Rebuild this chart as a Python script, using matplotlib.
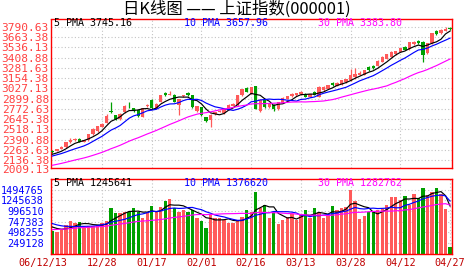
import matplotlib
matplotlib.use("Agg")
import matplotlib.pyplot as plt
import matplotlib.transforms as mtransforms
import numpy as np
import pandas as pd

# ---- data --------------------------------------------------------------
date_labels = ["06/12/13", "12/28", "01/17", "02/01", "02/16", "03/13", "03/28", "04/12", "04/27"]
date_index = [0, 11, 22, 33, 44, 55, 66, 77, 88]

opens = [2252, 2254, 2280, 2296, 2362, 2386, 2404, 2366, 2384, 2458,
         2500, 2550, 2602, 2752, 2694, 2646, 2735, 2850, 2778, 2756,
         2672, 2808, 2880, 2778, 2860, 2975, 2950, 2950, 2820, 2930,
         2975, 2942, 2745, 2796, 2672, 2632, 2704, 2740, 2716, 2768,
         2812, 2818, 2942, 3033, 2963, 3054, 2747, 2880, 2797, 2826,
         2776, 2847, 2901, 2935, 2942, 2954, 2960, 2925, 2983, 2921,
         3005, 3025, 3100, 3060, 3078, 3110, 3128, 3170, 3195, 3194,
         3298, 3310, 3311, 3361, 3393, 3423, 3451, 3485, 3547, 3517,
         3576, 3612, 3609, 3464, 3588, 3741, 3712, 3745, 3780]
highs = [2268, 2280, 2308, 2362, 2410, 2412, 2412, 2392, 2462, 2532,
         2566, 2592, 2706, 2858, 2702, 2718, 2822, 2858, 2786, 2762,
         2790, 2838, 2892, 2842, 2945, 2980, 2990, 2956, 2902, 2950,
         2985, 2950, 2812, 2802, 2676, 2706, 2740, 2760, 2782, 2832,
         2845, 2948, 3020, 3040, 3050, 3058, 2892, 2890, 2845, 2832,
         2860, 2918, 2935, 2968, 2975, 2990, 2966, 2960, 2992, 3052,
         3052, 3070, 3106, 3108, 3135, 3150, 3274, 3277, 3250, 3260,
         3305, 3318, 3375, 3430, 3458, 3490, 3498, 3532, 3555, 3605,
         3615, 3625, 3615, 3592, 3720, 3752, 3760, 3785, 3790.63]
lows = [2228, 2246, 2276, 2290, 2352, 2376, 2356, 2360, 2380, 2450,
        2490, 2542, 2598, 2720, 2640, 2640, 2728, 2790, 2738, 2678,
        2666, 2800, 2770, 2770, 2855, 2938, 2940, 2856, 2692, 2918,
        2935, 2790, 2738, 2688, 2612, 2548, 2696, 2730, 2710, 2762,
        2806, 2812, 2936, 2980, 2958, 2770, 2740, 2790, 2790, 2745,
        2760, 2840, 2895, 2925, 2938, 2945, 2915, 2918, 2945, 2915,
        3000, 3020, 3060, 3055, 3070, 3100, 3120, 3150, 3190, 3190,
        3250, 3270, 3305, 3355, 3388, 3418, 3445, 3480, 3500, 3510,
        3570, 3585, 3361, 3455, 3580, 3695, 3705, 3738, 3748]
closes = [2242, 2272, 2300, 2356, 2392, 2402, 2364, 2386, 2456, 2526,
          2560, 2580, 2690, 2738, 2652, 2712, 2815, 2842, 2746, 2686,
          2784, 2826, 2778, 2838, 2940, 2944, 2960, 2860, 2898, 2936,
          2942, 2798, 2806, 2694, 2620, 2700, 2734, 2750, 2776, 2826,
          2838, 2942, 3016, 2985, 3045, 2776, 2888, 2797, 2838, 2776,
          2858, 2913, 2929, 2955, 2970, 2983, 2925, 2952, 2950, 3045,
          3045, 3066, 3066, 3100, 3128, 3140, 3190, 3210, 3225, 3256,
          3262, 3278, 3368, 3423, 3451, 3485, 3492, 3526, 3505, 3600,
          3609, 3590, 3443, 3588, 3712, 3700, 3753, 3770, 3765]
volumes = [524, 510, 548, 665, 759, 705, 745, 627, 651, 651,
           665, 705, 759, 1058, 956, 940, 980, 980, 1074, 980,
           823, 980, 1121, 980, 1097, 1230, 1269, 1074, 980, 1018,
           980, 1018, 823, 759, 604, 900, 839, 823, 783, 705,
           720, 790, 862, 1018, 980, 1434, 1058, 1136, 839, 980,
           682, 783, 862, 917, 783, 917, 1018, 823, 1074, 971,
           830, 909, 1105, 1011, 1074, 1089, 1481, 1222, 799, 877,
           971, 971, 1011, 1050, 1128, 1324, 1324, 1246, 1347, 1128,
           1402, 1300, 1520, 1363, 1426, 1520, 1402, 1050, 148]
volumes = [v * 1000 for v in volumes]

# sessions before the window (only feed the moving averages)
pre_closes = [1930, 1945, 1952, 1968, 1975, 1983, 1990, 1998, 2005, 2012,
              2020, 2028, 2035, 2042, 2050, 2058, 2065, 2072, 2080, 2090,
              2120, 2145, 2165, 2185, 2210, 2190, 2198, 2205, 2211]
pre_volumes = [420, 450, 430, 470, 455, 440, 480, 500, 470, 460,
               490, 510, 480, 520, 505, 530, 515, 540, 560, 555,
               820, 760, 800, 750, 770, 680, 640, 620, 636]
pre_volumes = [v * 1000 for v in pre_volumes]

price_ticks = [2136.38, 2263.63, 2390.88, 2518.13, 2645.38, 2772.63, 2899.88,
               3027.13, 3154.38, 3281.63, 3408.88, 3536.13, 3663.38, 3790.63]
price_floor = 2009.13
vol_ticks = [249128, 498255, 747383, 996510, 1245638, 1494765]

price_legend = [("5 PMA 3745.16", "black"), ("10 PMA 3657.96", "#0000ff"), ("30 PMA 3383.80", "#ff00ff")]
vol_legend = [("5 PMA 1245641", "black"), ("10 PMA 1376620", "#0000ff"), ("30 PMA 1282762", "#ff00ff")]

# ---- styling ------------------------------------------------------------
W, H = 472, 273
RED = "#ff5a5a"
GREEN = "#00a000"
FRAME = "#ff0000"
MONO = "DejaVu Sans Mono"

n = len(closes)
x = np.arange(n)
o = np.array(opens, dtype=float)
h = np.array(highs, dtype=float)
l = np.array(lows, dtype=float)
c = np.array(closes, dtype=float)
up = c >= o
colors = np.where(up, RED, GREEN)

all_close = pd.Series(pre_closes + closes, dtype=float)
all_vol = pd.Series(pre_volumes + volumes, dtype=float)
k = len(pre_closes)
ma_price = {p: all_close.rolling(p).mean().iloc[k:].to_numpy() for p in (5, 10, 30)}
ma_vol = {p: all_vol.rolling(p).mean().iloc[k:].to_numpy() for p in (5, 10, 30)}
ma_colors = {5: "black", 10: "#0000ff", 30: "#ff00ff"}


def fx(px):
    return px / W


def fy(py):
    return 1 - py / H


def style_panel(ax):
    for s in ax.spines.values():
        s.set_color(FRAME)
        s.set_linewidth(1.0)
    ax.spines["left"].set_linestyle((0, (1, 1)))
    ax.grid(True, color="#c4c4c4", linestyle=(0, (1, 2)), linewidth=0.8)
    ax.set_axisbelow(True)
    ax.tick_params(length=0)


fig = plt.figure(figsize=(W / 100, H / 100), dpi=100)

ax = fig.add_axes([fx(51), fy(168), fx(401), 149 / H])
axv = fig.add_axes([fx(51), fy(253.5), fx(401), 75 / H])

# candles
ax.vlines(x, l, h, colors=colors, linewidth=0.9, zorder=2)
body_bot = np.minimum(o, c)
body_h = np.maximum(np.abs(c - o), 10)
ax.bar(x, body_h, bottom=body_bot, width=0.74, color=colors, linewidth=0, zorder=3)
for p in (5, 10, 30):
    ax.plot(x, ma_price[p], color=ma_colors[p], linewidth=0.85, zorder=4)

ax.set_xlim(-0.29, 88.43)
ax.set_ylim(2038.4, 3890)
ax.set_yticks(price_ticks)
ax.set_yticklabels([f"{t:.2f}" for t in price_ticks])
ax.set_xticks(date_index[1:-1])
ax.set_xticklabels([])
style_panel(ax)
ax.tick_params(axis="y", colors="#ff4040", labelsize=8, pad=1.5)
for t in ax.get_yticklabels():
    t.set_fontfamily(MONO)
ax.text(-0.0045, price_floor, f"{price_floor:.2f}", transform=ax.get_yaxis_transform(),
        ha="right", va="center", fontsize=8, color="#ff4040", family=MONO, clip_on=False)

# volume bars
axv.bar(x, volumes, width=0.74, color=colors, linewidth=0, zorder=2)
for p in (5, 10, 30):
    axv.plot(x, ma_vol[p], color=ma_colors[p], linewidth=0.85, zorder=4)
axv.set_xlim(-0.29, 88.43)
axv.set_ylim(0, 1753000)
axv.set_yticks(vol_ticks)
axv.set_yticklabels([str(t) for t in vol_ticks])
axv.set_xticks(date_index)
axv.set_xticklabels(date_labels)
style_panel(axv)
axv.tick_params(axis="y", colors="#0000ff", labelsize=7.3, pad=5)
axv.tick_params(axis="x", colors="#c00000", labelsize=7.3, pad=3)
for t in axv.get_yticklabels() + axv.get_xticklabels():
    t.set_fontfamily(MONO)
# first date label sits a little left of its tick
first = axv.get_xticklabels()[0]
first.set_transform(first.get_transform() + mtransforms.ScaledTranslation(-9 / 100, 0, fig.dpi_scale_trans))

# legends inside panels
for (txt, col), px in zip(price_legend, (54, 184, 318)):
    fig.text(fx(px), fy(23.5), txt, color=col, fontsize=7.2, family=MONO, va="center", ha="left")
for (txt, col), px in zip(vol_legend, (54, 184, 318)):
    fig.text(fx(px), fy(182.5), txt, color=col, fontsize=7.2, family=MONO, va="center", ha="left")

fig.text(fx(237), fy(9), "日K线图 —— 上证指数(000001)", fontsize=11.8,
         family=["Noto Sans CJK SC", "DejaVu Sans"], ha="center", va="center", color="black")

fig.savefig("out.png", dpi=100, facecolor="white")
